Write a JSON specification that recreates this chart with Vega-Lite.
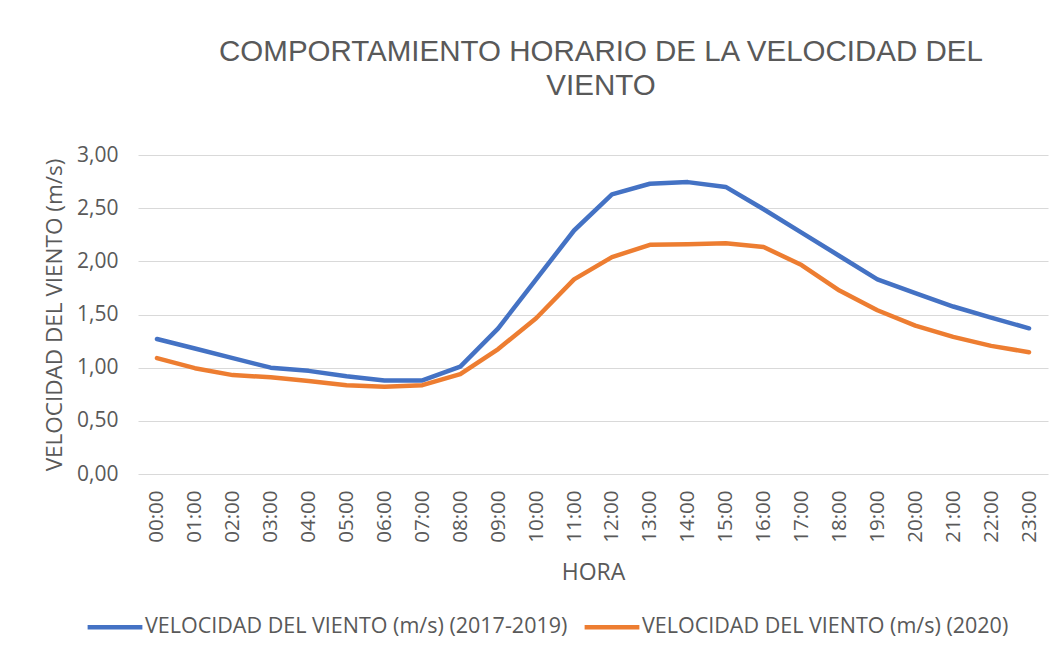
{
  "$schema": "https://vega.github.io/schema/vega-lite/v6.json",
  "autosize": "none",
  "width": 910,
  "height": 319,
  "padding": {"left": 138, "top": 155, "right": 16, "bottom": 183},
  "background": "white",
  "title": {
    "text": ["COMPORTAMIENTO HORARIO DE LA VELOCIDAD DEL", "VIENTO"],
    "font": "Liberation Sans",
    "fontSize": 29.5,
    "fontWeight": "normal",
    "color": "#595959",
    "anchor": "middle",
    "frame": "group",
    "lineHeight": 34,
    "offset": 43,
    "dx": 8
  },
  "config": {
    "view": {"stroke": null},
    "axis": {"labelColor": "#595959", "titleColor": "#595959", "labelFont": "Open Sans", "titleFont": "Open Sans", "titleFontWeight": "normal"}
  },
  "data": {
    "values": [
      {"hora": "00:00", "serie": "VELOCIDAD DEL VIENTO (m/s) (2017-2019)", "v": 1.27},
      {"hora": "01:00", "serie": "VELOCIDAD DEL VIENTO (m/s) (2017-2019)", "v": 1.18},
      {"hora": "02:00", "serie": "VELOCIDAD DEL VIENTO (m/s) (2017-2019)", "v": 1.09},
      {"hora": "03:00", "serie": "VELOCIDAD DEL VIENTO (m/s) (2017-2019)", "v": 1.00},
      {"hora": "04:00", "serie": "VELOCIDAD DEL VIENTO (m/s) (2017-2019)", "v": 0.97},
      {"hora": "05:00", "serie": "VELOCIDAD DEL VIENTO (m/s) (2017-2019)", "v": 0.92},
      {"hora": "06:00", "serie": "VELOCIDAD DEL VIENTO (m/s) (2017-2019)", "v": 0.88},
      {"hora": "07:00", "serie": "VELOCIDAD DEL VIENTO (m/s) (2017-2019)", "v": 0.88},
      {"hora": "08:00", "serie": "VELOCIDAD DEL VIENTO (m/s) (2017-2019)", "v": 1.01},
      {"hora": "09:00", "serie": "VELOCIDAD DEL VIENTO (m/s) (2017-2019)", "v": 1.37},
      {"hora": "10:00", "serie": "VELOCIDAD DEL VIENTO (m/s) (2017-2019)", "v": 1.83},
      {"hora": "11:00", "serie": "VELOCIDAD DEL VIENTO (m/s) (2017-2019)", "v": 2.29},
      {"hora": "12:00", "serie": "VELOCIDAD DEL VIENTO (m/s) (2017-2019)", "v": 2.63},
      {"hora": "13:00", "serie": "VELOCIDAD DEL VIENTO (m/s) (2017-2019)", "v": 2.73},
      {"hora": "14:00", "serie": "VELOCIDAD DEL VIENTO (m/s) (2017-2019)", "v": 2.745},
      {"hora": "15:00", "serie": "VELOCIDAD DEL VIENTO (m/s) (2017-2019)", "v": 2.70},
      {"hora": "16:00", "serie": "VELOCIDAD DEL VIENTO (m/s) (2017-2019)", "v": 2.49},
      {"hora": "17:00", "serie": "VELOCIDAD DEL VIENTO (m/s) (2017-2019)", "v": 2.27},
      {"hora": "18:00", "serie": "VELOCIDAD DEL VIENTO (m/s) (2017-2019)", "v": 2.05},
      {"hora": "19:00", "serie": "VELOCIDAD DEL VIENTO (m/s) (2017-2019)", "v": 1.83},
      {"hora": "20:00", "serie": "VELOCIDAD DEL VIENTO (m/s) (2017-2019)", "v": 1.70},
      {"hora": "21:00", "serie": "VELOCIDAD DEL VIENTO (m/s) (2017-2019)", "v": 1.575},
      {"hora": "22:00", "serie": "VELOCIDAD DEL VIENTO (m/s) (2017-2019)", "v": 1.47},
      {"hora": "23:00", "serie": "VELOCIDAD DEL VIENTO (m/s) (2017-2019)", "v": 1.37},
      {"hora": "00:00", "serie": "VELOCIDAD DEL VIENTO (m/s) (2020)", "v": 1.09},
      {"hora": "01:00", "serie": "VELOCIDAD DEL VIENTO (m/s) (2020)", "v": 0.995},
      {"hora": "02:00", "serie": "VELOCIDAD DEL VIENTO (m/s) (2020)", "v": 0.93},
      {"hora": "03:00", "serie": "VELOCIDAD DEL VIENTO (m/s) (2020)", "v": 0.91},
      {"hora": "04:00", "serie": "VELOCIDAD DEL VIENTO (m/s) (2020)", "v": 0.875},
      {"hora": "05:00", "serie": "VELOCIDAD DEL VIENTO (m/s) (2020)", "v": 0.835},
      {"hora": "06:00", "serie": "VELOCIDAD DEL VIENTO (m/s) (2020)", "v": 0.82},
      {"hora": "07:00", "serie": "VELOCIDAD DEL VIENTO (m/s) (2020)", "v": 0.835},
      {"hora": "08:00", "serie": "VELOCIDAD DEL VIENTO (m/s) (2020)", "v": 0.94},
      {"hora": "09:00", "serie": "VELOCIDAD DEL VIENTO (m/s) (2020)", "v": 1.175},
      {"hora": "10:00", "serie": "VELOCIDAD DEL VIENTO (m/s) (2020)", "v": 1.465},
      {"hora": "11:00", "serie": "VELOCIDAD DEL VIENTO (m/s) (2020)", "v": 1.83},
      {"hora": "12:00", "serie": "VELOCIDAD DEL VIENTO (m/s) (2020)", "v": 2.04},
      {"hora": "13:00", "serie": "VELOCIDAD DEL VIENTO (m/s) (2020)", "v": 2.155},
      {"hora": "14:00", "serie": "VELOCIDAD DEL VIENTO (m/s) (2020)", "v": 2.16},
      {"hora": "15:00", "serie": "VELOCIDAD DEL VIENTO (m/s) (2020)", "v": 2.17},
      {"hora": "16:00", "serie": "VELOCIDAD DEL VIENTO (m/s) (2020)", "v": 2.135},
      {"hora": "17:00", "serie": "VELOCIDAD DEL VIENTO (m/s) (2020)", "v": 1.965},
      {"hora": "18:00", "serie": "VELOCIDAD DEL VIENTO (m/s) (2020)", "v": 1.725},
      {"hora": "19:00", "serie": "VELOCIDAD DEL VIENTO (m/s) (2020)", "v": 1.54},
      {"hora": "20:00", "serie": "VELOCIDAD DEL VIENTO (m/s) (2020)", "v": 1.395},
      {"hora": "21:00", "serie": "VELOCIDAD DEL VIENTO (m/s) (2020)", "v": 1.29},
      {"hora": "22:00", "serie": "VELOCIDAD DEL VIENTO (m/s) (2020)", "v": 1.205},
      {"hora": "23:00", "serie": "VELOCIDAD DEL VIENTO (m/s) (2020)", "v": 1.145}
    ]
  },
  "mark": {"type": "line", "strokeWidth": 4.5, "strokeCap": "round", "strokeJoin": "round"},
  "encoding": {
    "x": {
      "field": "hora",
      "type": "ordinal",
      "scale": {"type": "point", "padding": 0.5},
      "axis": {
        "title": "HORA",
        "titleFontSize": 23,
        "titlePadding": 19,
        "labelAngle": -90,
        "labelFontSize": 20.5,
        "labelPadding": 16,
        "domain": false,
        "ticks": false,
        "grid": false
      }
    },
    "y": {
      "field": "v",
      "type": "quantitative",
      "scale": {"domain": [0, 3], "nice": false},
      "axis": {
        "title": "VELOCIDAD DEL VIENTO (m/s)",
        "titleFontSize": 22.5,
        "titlePadding": 10,
        "values": [0, 0.5, 1, 1.5, 2, 2.5, 3],
        "labelExpr": "replace(format(datum.value, '.2f'), '.', ',')",
        "labelFontSize": 21,
        "labelPadding": 20,
        "domain": false,
        "ticks": false,
        "grid": true,
        "gridColor": "#d9d9d9",
        "gridWidth": 1.2
      }
    },
    "color": {
      "field": "serie",
      "type": "nominal",
      "scale": {
        "domain": ["VELOCIDAD DEL VIENTO (m/s) (2017-2019)", "VELOCIDAD DEL VIENTO (m/s) (2020)"],
        "range": ["#4472C4", "#ED7D31"]
      },
      "legend": {
        "title": null,
        "orient": "none",
        "direction": "horizontal",
        "legendX": -53,
        "legendY": 442,
        "symbolType": "stroke",
        "symbolStrokeWidth": 4.5,
        "symbolSize": 3000,
        "labelFont": "Open Sans",
        "labelFontSize": 21.5,
        "labelColor": "#595959",
        "labelLimit": 600,
        "labelOffset": 0,
        "columnPadding": 7
      }
    }
  }
}
